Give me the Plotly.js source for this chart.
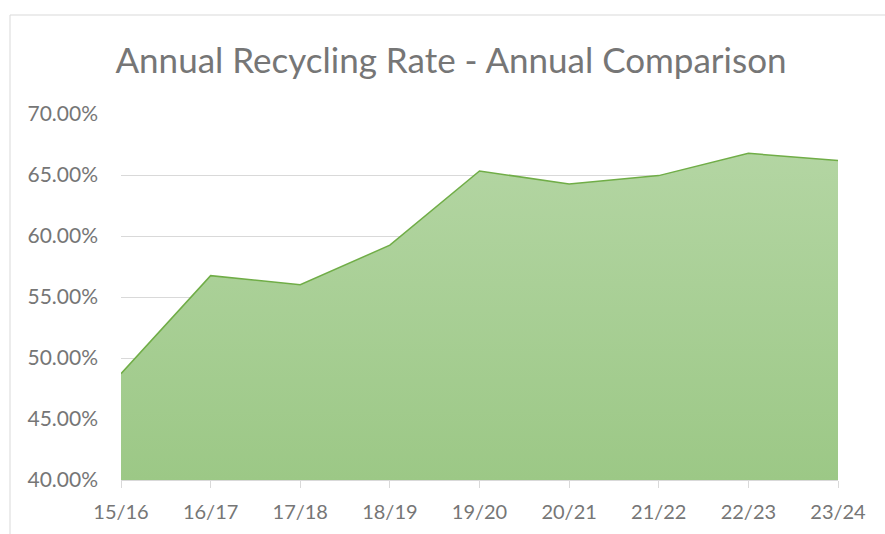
<!DOCTYPE html>
<html>
<head>
<meta charset="utf-8">
<script src="https://cdn.plot.ly/plotly-3.0.1.min.js"></script>
<style>html,body{margin:0;padding:0;background:#fff;}#chart{width:885px;height:534px;}</style>
</head>
<body>
<div id="chart"></div>
<script>
const years = ["15/16","16/17","17/18","18/19","19/20","20/21","21/22","22/23","23/24"];
const recyclingRate = [0.4872, 0.5675, 0.5600, 0.5925, 0.6533, 0.6426, 0.6495, 0.6678, 0.6618];
const yTicks = [0.40, 0.45, 0.50, 0.55, 0.60, 0.65, 0.70];
const chartTitle = "Annual Recycling Rate - Annual Comparison";

const FONT = "Lato, 'Open Sans', sans-serif";
const TEXT_COLOR = "#767676";
const trace = {
  x: years,
  y: recyclingRate,
  type: "scatter",
  mode: "lines",
  fill: "tozeroy",
  line: {color: "#70ad47", width: 1.5},
  fillgradient: {
    type: "vertical",
    start: 0.40,
    stop: 0.70,
    colorscale: [[0, "#9cc886"], [1, "#b6d7a6"]]
  },
  hoverinfo: "x+y"
};

const layout = {
  width: 885, height: 534,
  margin: {l: 121, r: 47, t: 114, b: 54},
  paper_bgcolor: "#ffffff",
  plot_bgcolor: "#ffffff",
  showlegend: false,
  title: {
    text: chartTitle,
    font: {family: FONT, size: 35, color: TEXT_COLOR},
    x: 451/885, xref: "container", xanchor: "center",
    y: 1 - 61/534, yref: "container", yanchor: "middle"
  },
  xaxis: {
    type: "category",
    range: [0, years.length - 1],
    showgrid: false,
    showline: true, linecolor: "#d9d9d9", linewidth: 1,
    ticks: "outside", ticklen: 7, tickcolor: "#d9d9d9", tickwidth: 1,
    tickfont: {family: FONT, size: 20, color: TEXT_COLOR},
    ticklabelstandoff: 7,
    zeroline: false,
    fixedrange: true
  },
  yaxis: {
    range: [0.40, 0.70],
    tickvals: yTicks,
    tickformat: ".2%",
    showgrid: true, gridcolor: "#d9d9d9", gridwidth: 1,
    showline: false, zeroline: false,
    ticks: "",
    tickfont: {family: FONT, size: 21, color: TEXT_COLOR},
    ticklabelstandoff: 22,
    fixedrange: true
  },
  shapes: [
    {type: "line", xref: "paper", yref: "paper",
     x0: (10-121)/717, x1: (10-121)/717, y0: (480-15)/366, y1: (480-545)/366,
     line: {color: "#d9d9d9", width: 1}},
    {type: "line", xref: "paper", yref: "paper",
     x0: (10-121)/717, x1: (895-121)/717, y0: (480-15)/366, y1: (480-15)/366,
     line: {color: "#d9d9d9", width: 1}}
  ]
};

Plotly.newPlot("chart", [trace], layout, {displayModeBar: false, staticPlot: true});
</script>
</body>
</html>
